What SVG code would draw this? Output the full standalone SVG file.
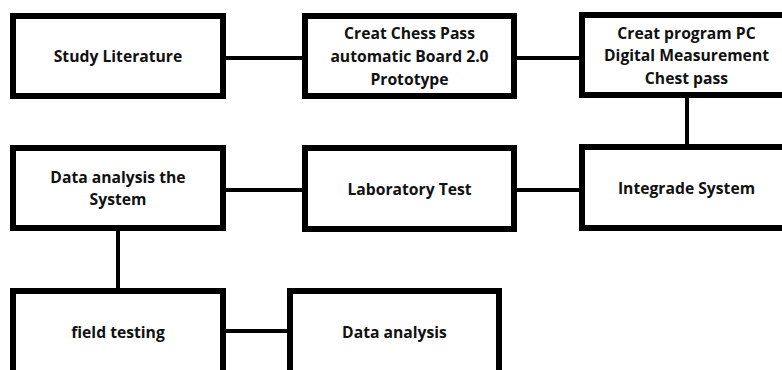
<svg xmlns="http://www.w3.org/2000/svg" width="782" height="370" viewBox="0 0 782 370">
<style>
.box rect{fill:#fff;stroke:#000;stroke-width:6}
.box text{font-family:"Open Sans","Liberation Sans",sans-serif;font-weight:700;font-size:15.7px;fill:#111;text-anchor:middle}
.conn line{stroke:#000;stroke-width:4}
</style>
<rect width="782" height="370" fill="#fff"/>
<g class="conn">
<line x1="226" y1="58" x2="302" y2="58"/>
<line x1="517" y1="58" x2="579" y2="58"/>
<line x1="687" y1="98" x2="687" y2="144"/>
<line x1="226" y1="190" x2="302" y2="190"/>
<line x1="517" y1="190" x2="579" y2="190"/>
<line x1="118" y1="231" x2="118" y2="288"/>
<line x1="226" y1="331" x2="287" y2="331"/>
</g>
<g id="n1" class="box"><rect x="13" y="16" width="210" height="80"/><text x="118" y="62">Study Literature</text></g>
<g id="n2" class="box"><rect x="305" y="16" width="209" height="80"/><text x="409.5" y="39">Creat Chess Pass</text><text x="409.5" y="62">automatic Board 2.0</text><text x="409.5" y="85">Prototype</text></g>
<g id="n3" class="box"><rect x="582" y="15" width="210" height="80"/><text x="686.5" y="39">Creat program PC</text><text x="686.5" y="61">Digital Measurement</text><text x="686.5" y="84">Chest pass</text></g>
<g id="n4" class="box"><rect x="13" y="148" width="210" height="80"/><text x="118" y="183">Data analysis the</text><text x="118" y="205">System</text></g>
<g id="n5" class="box"><rect x="305" y="148" width="209" height="81"/><text x="409.5" y="195">Laboratory Test</text></g>
<g id="n6" class="box"><rect x="582" y="147" width="210" height="81"/><text x="686.5" y="194">Integrade System</text></g>
<g id="n7" class="box"><rect x="13" y="291" width="210" height="84"/><text x="118" y="338">field testing</text></g>
<g id="n8" class="box"><rect x="290" y="291" width="209" height="84"/><text x="394.5" y="338">Data analysis</text></g>
</svg>
